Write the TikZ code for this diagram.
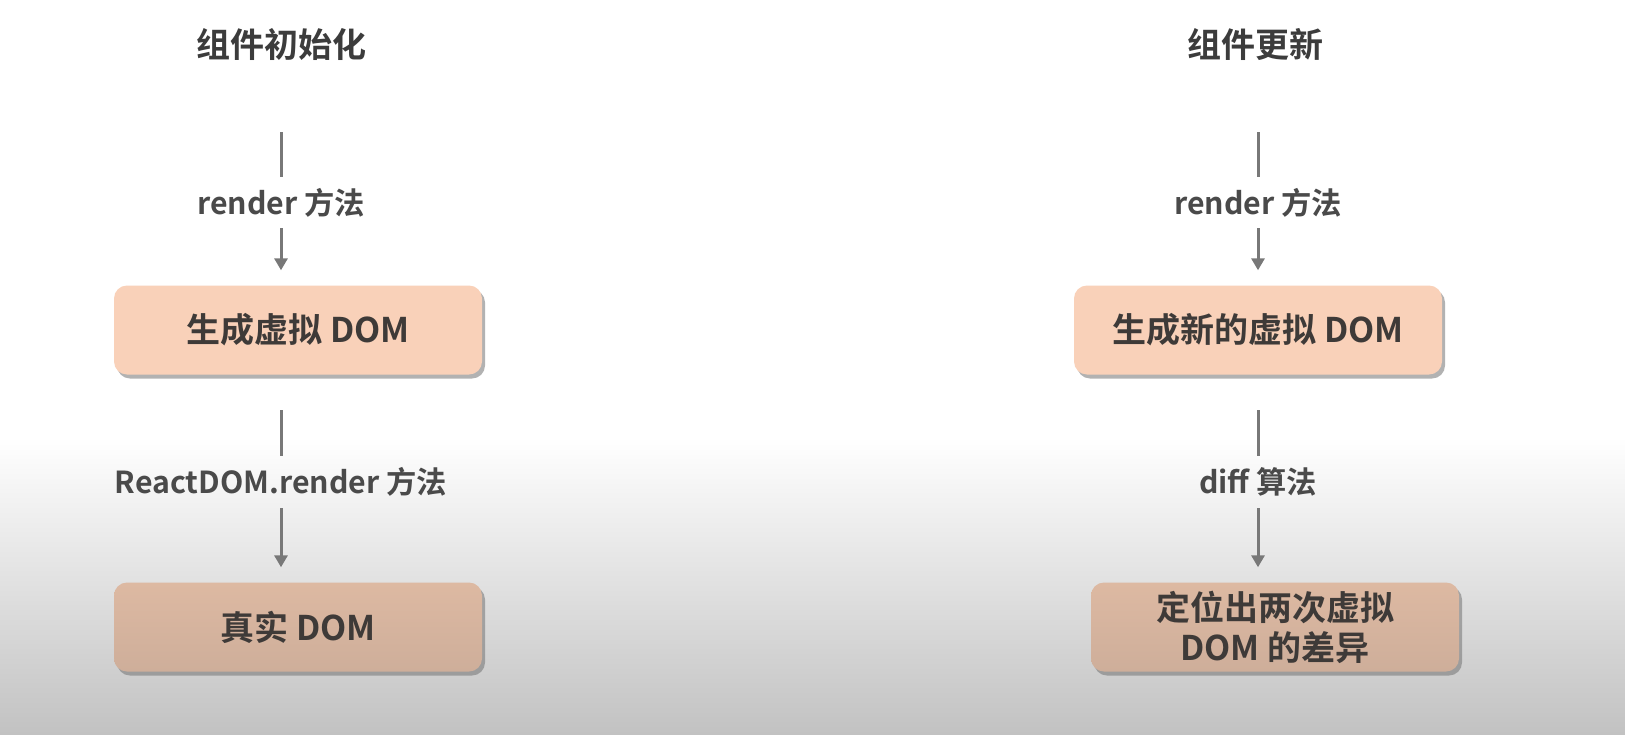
\documentclass[tikz,border=0pt]{standalone}
\usepackage{fontspec}
\setmainfont{Noto Sans CJK SC}[BoldFont=* Bold]
\usetikzlibrary{arrows.meta,shadows}
\definecolor{peach}{HTML}{F9D1B9}
\definecolor{tanTop}{HTML}{DDB9A2}
\definecolor{tanBot}{HTML}{CEAE9A}
\definecolor{boxtext}{HTML}{3E3A38}
\definecolor{titletext}{HTML}{3C3C3C}
\definecolor{labeltext}{HTML}{4A4A4A}
\definecolor{linegray}{HTML}{787878}
\definecolor{bgbottom}{HTML}{C2C2C2}
\tikzset{
  titlenode/.style={font=\bfseries\fontsize{34}{40}\selectfont, text=titletext, inner sep=0pt},
  labelnode/.style={font=\bfseries\fontsize{30.3}{36}\selectfont, text=labeltext, inner sep=0pt},
  boxbase/.style={rounded corners=13pt, minimum width=368pt, minimum height=89pt,
    font=\bfseries\fontsize{34}{40}\selectfont, text=boxtext, align=center,
    drop shadow={shadow xshift=3pt, shadow yshift=-4pt, fill=black!55, opacity=0.55}},
  lightbox/.style={boxbase, fill=peach},
  darkbox/.style={boxbase, top color=tanTop, bottom color=tanBot},
  conn/.style={draw=linegray, line width=3pt},
  connarrow/.style={conn, -{Triangle[width=13pt,length=12pt]}, shorten >=15pt},
}
\begin{document}
\begin{tikzpicture}[x=1pt,y=-1pt]
\useasboundingbox (0,0) rectangle (1625,734);
% background
\fill[white] (0,0) rectangle (1625,438);
\shade[top color=white, bottom color=bgbottom] (0,437) rectangle (1625,734);

% ---------- left column ----------
\node[titlenode] (t1) at (281,44) {组件初始化};
\coordinate (s1) at (281,132);
\coordinate (e1) at (281,177);
\node[labelnode] (l1) at (281,203) {render 方法};
\coordinate (f1) at (281,228);
\node[lightbox] (b1) at (298,330) {生成虚拟 DOM};
\coordinate (s2) at (281,410);
\coordinate (e2) at (281,456);
\node[labelnode] (l2) at (281,482) {ReactDOM.render 方法};
\coordinate (f2) at (281,508);
\node[darkbox] (b2) at (298,627) {真实 DOM};

\draw[conn] (s1) -- (e1);
\draw[connarrow] (f1) -- (b1.north -| f1);
\draw[conn] (s2) -- (e2);
\draw[connarrow] (f2) -- (b2.north -| f2);

% ---------- right column ----------
\node[titlenode] (t2) at (1255,44) {组件更新};
\coordinate (s3) at (1258,132);
\coordinate (e3) at (1258,177);
\node[labelnode] (l3) at (1258,203) {render 方法};
\coordinate (f3) at (1258,228);
\node[lightbox] (b3) at (1258,330) {生成新的虚拟 DOM};
\coordinate (s4) at (1258,410);
\coordinate (e4) at (1258,456);
\node[labelnode] (l4) at (1258,482) {diff 算法};
\coordinate (f4) at (1258,508);
\node[darkbox] (b4) at (1275,627) {定位出两次虚拟\\DOM 的差异};

\draw[conn] (s3) -- (e3);
\draw[connarrow] (f3) -- (b3.north -| f3);
\draw[conn] (s4) -- (e4);
\draw[connarrow] (f4) -- (b4.north -| f4);
\end{tikzpicture}
\end{document}
